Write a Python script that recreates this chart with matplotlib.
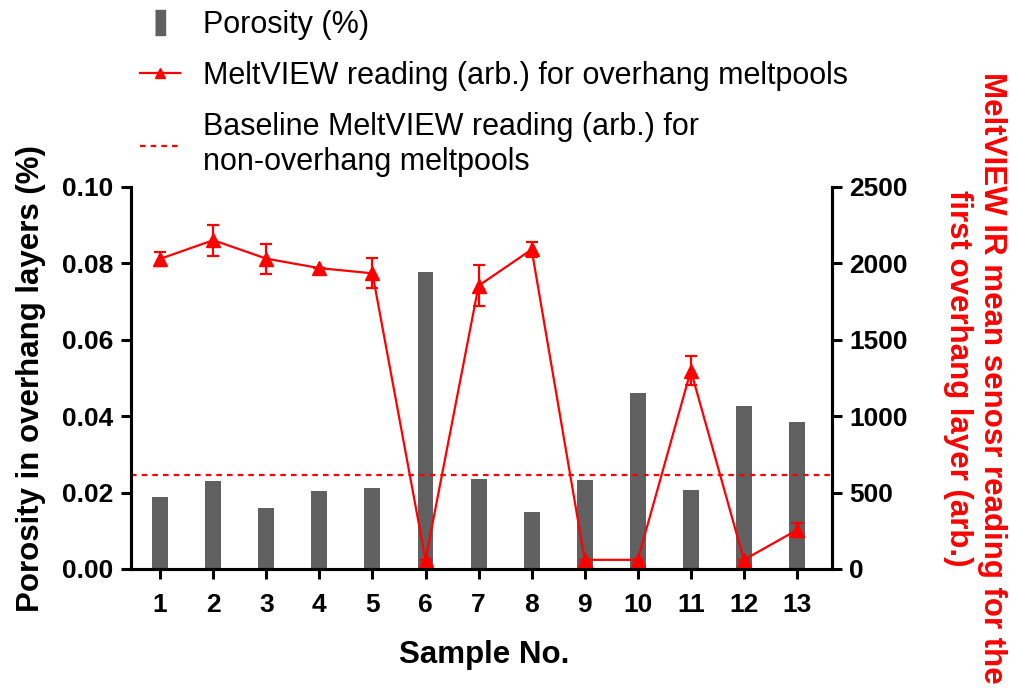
import numpy as np
import matplotlib
matplotlib.use("Agg")
import matplotlib.pyplot as plt
from matplotlib.lines import Line2D

plt.rcParams['font.family'] = ['Liberation Sans', 'DejaVu Sans']

# data
samples = [1, 2, 3, 4, 5, 6, 7, 8, 9, 10, 11, 12, 13]
porosity = [0.0188, 0.0230, 0.0160, 0.0204, 0.0212, 0.0778, 0.0236,
            0.0149, 0.0233, 0.0461, 0.0207, 0.0427, 0.0385]
meltview = [2030, 2152, 2031, 1969, 1935, 60, 1854, 2091, 60, 60, 1299, 60, 255]
meltview_err = [45, 102, 99, 0, 99, 0, 134, 50, 0, 0, 95, 0, 45]
baseline = 615

bar_color = '#606060'
red = '#ff0000'
dots = (0, (2.5, 2.3))
W, H = 1011, 688

fig = plt.figure(figsize=(W / 100, H / 100), dpi=100)
ax = fig.add_axes([131 / W, 1 - 569 / H, (832 - 131) / W, (569 - 187) / H])
ax2 = ax.twinx()

ax.bar(samples, porosity, width=0.3, color=bar_color, zorder=2)
ax.set_xlim(0.45, 13.66)
ax.set_ylim(0, 0.10)
yt = np.arange(0, 0.101, 0.02)
ax.set_yticks(yt)
ax.set_yticklabels([f'{v:.2f}' for v in yt])
ax.set_xticks(samples)

ax2.errorbar(samples, meltview, yerr=meltview_err, color=red, lw=1.6,
             marker='^', markersize=10, capsize=4.2, capthick=1.6, elinewidth=1.6)
ax2.axhline(baseline, color=red, ls=dots, lw=1.6)
ax2.set_ylim(0, 2500)
ax2.set_yticks(np.arange(0, 2501, 500))

for a in (ax, ax2):
    for s in a.spines.values():
        s.set_linewidth(2.2)
    a.spines['top'].set_visible(False)
    a.tick_params(width=2.2, length=7.5, labelsize=19, direction='out', pad=5)
    for lab in a.get_xticklabels() + a.get_yticklabels():
        lab.set_fontweight('bold')
ax.tick_params(axis='x', pad=10)

fig.text(484 / W, 1 - 655 / H, 'Sample No.', fontsize=22.5, fontweight='bold',
         ha='center', va='center')
fig.text(31 / W, 1 - 379 / H, 'Porosity in overhang layers (%)', fontsize=22.5,
         fontweight='bold', rotation=90, ha='center', va='center')
fig.text(975 / W, 1 - 378 / H,
         'MeltVIEW IR mean senosr reading for the\nfirst overhang layer (arb.)',
         fontsize=22.5, fontweight='bold', color=red, rotation=270,
         ha='center', va='center', multialignment='center', linespacing=1.15)

handles = [
    Line2D([], [], marker=[(-0.42, -1), (0.42, -1), (0.42, 1), (-0.42, 1)],
           markersize=18, color=bar_color, linestyle='none'),
    Line2D([], [], color=red, lw=1.6, marker='^', markersize=7),
    Line2D([], [], color=red, lw=1.6, ls=dots),
]
labels = ['Porosity (%)', 'MeltVIEW reading (arb.) for overhang meltpools',
          'Baseline MeltVIEW reading (arb.) for\nnon-overhang meltpools']
fig.legend(handles, labels, loc='upper left', bbox_to_anchor=(140 / W, 0.986),
           frameon=False, fontsize=22, handlelength=1.3, labelspacing=0.7,
           handletextpad=0.75, borderpad=0, borderaxespad=0)

fig.savefig('out.png', dpi=100)
